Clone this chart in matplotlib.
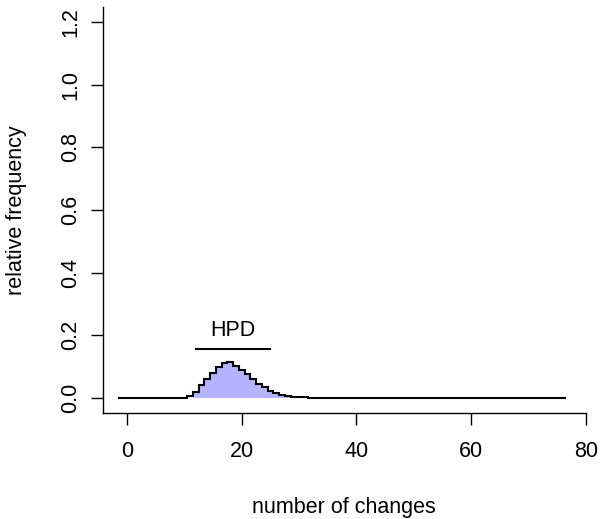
import numpy as np
import matplotlib
matplotlib.use("Agg")
import matplotlib.pyplot as plt

plt.rcParams['font.family'] = ['Liberation Sans', 'DejaVu Sans']

# relative frequency of number of changes, bins centred on integers
first_bin = -1
last_bin = 76
nz_start = 10
nz_freq = [0.001, 0.007, 0.018, 0.041, 0.061, 0.080, 0.098, 0.111, 0.114,
           0.103, 0.090, 0.077, 0.061, 0.045, 0.034, 0.023, 0.016, 0.010,
           0.006, 0.004, 0.003, 0.002, 0.001, 0.001]
hpd = [12, 25]
fill_bins = [12, 28]
xticks = [0, 20, 40, 60, 80]
yticks = [0.0, 0.2, 0.4, 0.6, 0.8, 1.0, 1.2]

centres = np.arange(first_bin, last_bin + 1)
freq = np.zeros(len(centres))
i0 = nz_start - first_bin
freq[i0:i0 + len(nz_freq)] = nz_freq
edges = np.append(centres - 0.5, centres[-1] + 0.5)

fs = 15.5
fig = plt.figure(figsize=(6.01, 5.19), dpi=100)
ax = fig.add_axes([103/601, 1-413/519, (586-103)/601, (413-7)/519])

sel = (centres >= fill_bins[0]) & (centres <= fill_bins[1])
fe = np.append(centres[sel] - 0.5, centres[sel][-1] + 0.5)
ax.stairs(freq[sel], fe, fill=True, color='#b3b3ff', lw=0)
ax.stairs(freq, edges, color='black', lw=1.5, baseline=None)

ax.plot(hpd, [0.156, 0.156], color='black', lw=1.5)
ax.text(np.mean(hpd), 0.215, 'HPD', ha='center', va='center', fontsize=fs)

ax.set_xlim(-4.18, 80.0)
ax.set_ylim(-0.048, 1.248)
ax.set_xticks(xticks)
ax.set_yticks(yticks)
ax.set_yticklabels(['%.1f' % v for v in yticks], rotation=90, va='center')
ax.spines['top'].set_visible(False)
ax.spines['right'].set_visible(False)
for s in ['left', 'bottom']:
    ax.spines[s].set_linewidth(1.0)
ax.tick_params(axis='both', length=8.5, width=1.0, labelsize=fs)
ax.tick_params(axis='x', pad=12)
ax.tick_params(axis='y', pad=7)

fig.text(344/601, 1-507/519, 'number of changes', ha='center', va='center', fontsize=fs)
fig.text(17/601, 1-210/519, 'relative frequency', ha='center', va='center',
         rotation=90, fontsize=fs)

fig.savefig('out.png', dpi=100)
